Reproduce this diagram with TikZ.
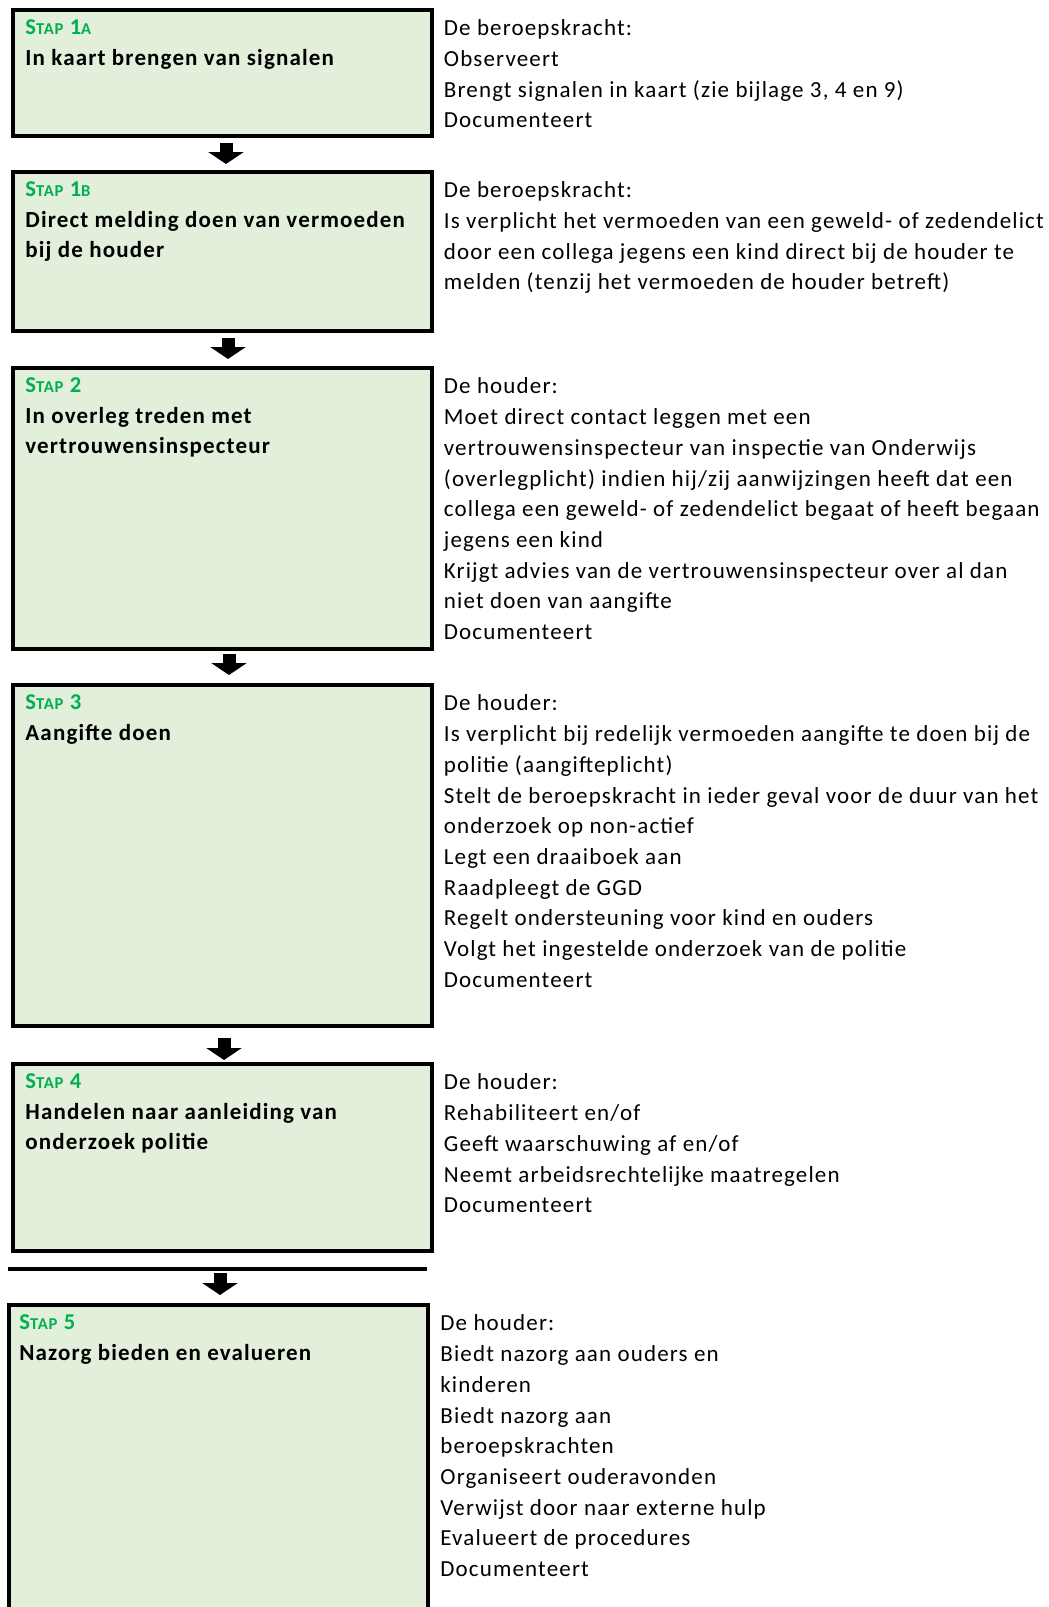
\documentclass[tikz,border=0pt]{standalone}
\usepackage{fontspec}
\setmainfont{Carlito}[LetterSpace=5]
\usepackage{tikz}
\usetikzlibrary{positioning,calc,arrows.meta}
\definecolor{boxgreen}{HTML}{E2EFDA}
\definecolor{stapgreen}{HTML}{00B050}
\newcommand{\stap}[2]{\textcolor{stapgreen}{\fontsize{11.3pt}{15.35pt}\selectfont S{\fontsize{8.3pt}{15.35pt}\selectfont TAP} #1{\fontsize{8.3pt}{15.35pt}\selectfont #2}}}

\begin{document}
\begin{tikzpicture}
  \tikzset{
    box/.style={draw, line width=2pt, fill=boxgreen, rectangle, inner sep=0pt, outer sep=0pt, minimum width=209.5pt},
    title/.style={align=left, inner sep=0pt, font=\fontsize{11.5pt}{15.35pt}\selectfont\bfseries},
    info/.style={align=left, inner sep=0pt, font=\fontsize{11.5pt}{15.35pt}\selectfont},
    line/.style={draw, -{Triangle[width=17.5pt,length=6pt]}, line width=6.5pt},
    rule/.style={draw, line width=2pt},
  }
  \useasboundingbox (0,0) rectangle (524.5pt,-803.5pt);
  \clip (0,0) rectangle (524.5pt,-803.5pt);

  \node [box, minimum height=63pt, anchor=north west] (b1) at (6.5pt,-5pt) {};
  \node [box, minimum height=79.5pt, below=18pt of b1] (b2) {};
  \node [box, minimum height=140.5pt, below=18.5pt of b2] (b3) {};
  \node [box, minimum height=170.5pt, below=18pt of b3] (b4) {};
  \node [box, minimum height=93.5pt, below=19pt of b4] (b5) {};
  \node [box, minimum height=167.5pt, below=27pt of b5, xshift=-2.25pt] (b6) {};

  \node [title, below right=1.255pt and 6pt of b1.north west] (t1) {\strut\stap{1}{A}\\In kaart brengen van signalen};
  \node [title, below right=1.255pt and 6pt of b2.north west] (t2) {\strut\stap{1}{B}\\Direct melding doen van vermoeden\\bij de houder};
  \node [title, below right=1.255pt and 6pt of b3.north west] (t3) {\strut\stap{2}{}\\In overleg treden met\\vertrouwensinspecteur};
  \node [title, below right=1.255pt and 6pt of b4.north west] (t4) {\strut\stap{3}{}\\Aangifte doen};
  \node [title, below right=1.255pt and 6pt of b5.north west] (t5) {\strut\stap{4}{}\\Handelen naar aanleiding van\\onderzoek politie};
  \node [title, below right=1.255pt and 5.25pt of b6.north west] (t6) {\strut\stap{5}{}\\Nazorg bieden en evalueren};

  \node [info, below right=2pt and 5.75pt of b1.north east] (i1) {\strut De beroepskracht:\\Observeert\\Brengt signalen in kaart (zie bijlage 3, 4 en 9)\\Documenteert};
  \node [info, below right=2pt and 5.75pt of b2.north east] (i2) {\strut De beroepskracht:\\Is verplicht het vermoeden van een geweld- of zedendelict\\door een collega jegens een kind direct bij de houder te\\melden (tenzij het vermoeden de houder betreft)};
  \node [info, below right=2pt and 5.75pt of b3.north east] (i3) {\strut De houder:\\Moet direct contact leggen met een\\vertrouwensinspecteur van inspectie van Onderwijs\\(overlegplicht) indien hij/zij aanwijzingen heeft dat een\\collega een geweld- of zedendelict begaat of heeft begaan\\jegens een kind\\Krijgt advies van de vertrouwensinspecteur over al dan\\niet doen van aangifte\\Documenteert};
  \node [info, below right=2pt and 5.75pt of b4.north east] (i4) {\strut De houder:\\Is verplicht bij redelijk vermoeden aangifte te doen bij de\\politie (aangifteplicht)\\Stelt de beroepskracht in ieder geval voor de duur van het\\onderzoek op non-actief\\Legt een draaiboek aan\\Raadpleegt de GGD\\Regelt ondersteuning voor kind en ouders\\Volgt het ingestelde onderzoek van de politie\\Documenteert};
  \node [info, below right=2pt and 5.75pt of b5.north east] (i5) {\strut De houder:\\Rehabiliteert en/of\\Geeft waarschuwing af en/of\\Neemt arbeidsrechtelijke maatregelen\\Documenteert};
  \node [info, below right=2pt and 6.25pt of b6.north east] (i6) {\strut De houder:\\Biedt nazorg aan ouders en\\kinderen\\Biedt nazorg aan\\beroepskrachten\\Organiseert ouderavonden\\Verwijst door naar externe hulp\\Evalueert de procedures\\Documenteert};

  \coordinate (sepL) at (4pt,-634.5pt);
  \coordinate (sepR) at (213.5pt,-634.5pt);
  \path [rule] (sepL) -- (sepR);

  \path [line] ($(b1.south)+(1.75pt,-3.5pt)$) -- ($(b2.north)+(1.75pt,4pt)$);
  \path [line] ($(b2.south)+(2.75pt,-3.5pt)$) -- ($(b3.north)+(2.75pt,4.5pt)$);
  \path [line] ($(b3.south)+(3.25pt,-2.5pt)$) -- ($(b4.north)+(3.25pt,5pt)$);
  \path [line] ($(b4.south)+(0.75pt,-6pt)$) -- ($(b5.north)+(0.75pt,2pt)$);
  \path [line] ($(b5.south)+(-1.25pt,-11pt)$) -- ($(b6.north)+(1pt,5pt)$);
\end{tikzpicture}
\end{document}
